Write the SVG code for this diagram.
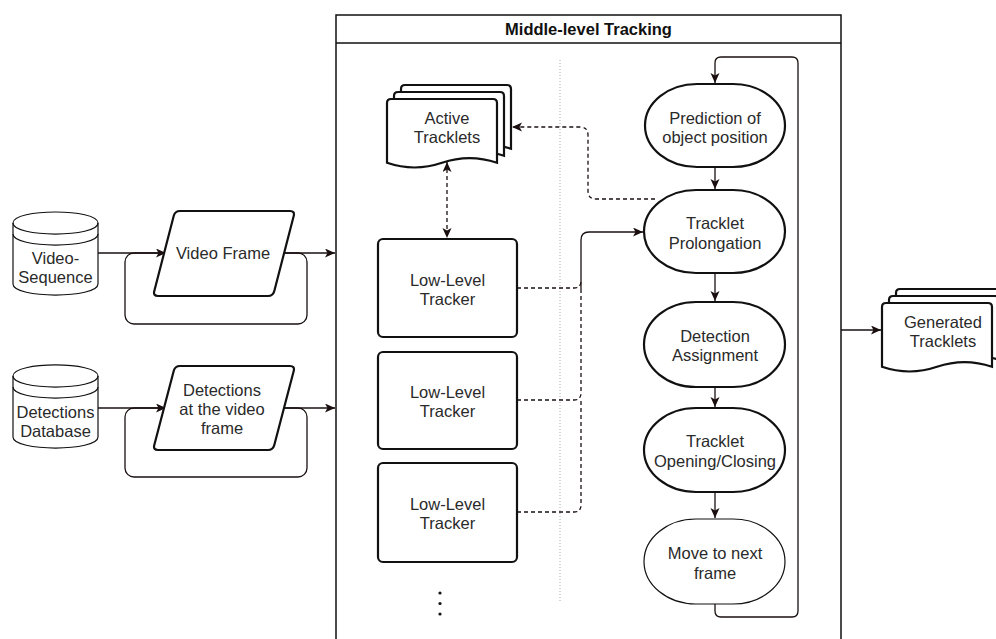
<svg xmlns="http://www.w3.org/2000/svg" width="996" height="639" viewBox="0 0 996 639">
<style>
text{font-family:"Liberation Sans",Arial,sans-serif;font-size:16.5px;fill:#2a2a2a;text-anchor:middle}
.title{font-weight:bold;fill:#111}
.thick{fill:#fff;stroke:#111;stroke-width:2.2}
.thin{fill:#fff;stroke:#111;stroke-width:1.2}
.line{fill:none;stroke:#1a1010;stroke-width:1.3}
.dash{fill:none;stroke:#1a1010;stroke-width:1.3;stroke-dasharray:4 3}
</style>
<defs>
<marker id="arr" markerWidth="12" markerHeight="10" refX="10" refY="4.5" orient="auto-start-reverse" markerUnits="userSpaceOnUse">
<path d="M0,0 L10,4.5 L0,9 L2.5,4.5 Z" fill="#1a0e0e" stroke="none"/>
</marker>
</defs>

<!-- container -->
<g id="container">
<path d="M336,645 V15 H841 V645" fill="none" stroke="#111" stroke-width="1.5"/>
<line x1="336" y1="43" x2="841" y2="43" stroke="#111" stroke-width="1.5"/>
<text class="title" x="588.5" y="35">Middle-level Tracking</text>
<line x1="560" y1="60" x2="560" y2="603" stroke="#aaa" stroke-width="1" stroke-dasharray="1 2"/>
</g>

<g id="connectors">
<!-- left inputs -->
<line class="line" x1="98" y1="253" x2="166" y2="253" marker-end="url(#arr)"/>
<line class="line" x1="284" y1="253" x2="335" y2="253" marker-end="url(#arr)"/>
<rect class="line" x="125" y="253" width="182" height="71" rx="9"/>
<line class="line" x1="98" y1="408" x2="166" y2="408" marker-end="url(#arr)"/>
<line class="line" x1="284" y1="408" x2="335" y2="408" marker-end="url(#arr)"/>
<rect class="line" x="125" y="408" width="182" height="69" rx="9"/>
<!-- output -->
<line class="line" x1="841" y1="330" x2="881" y2="330" marker-end="url(#arr)"/>
<!-- flow chain -->
<line class="line" x1="715" y1="167" x2="715" y2="189" marker-end="url(#arr)"/>
<line class="line" x1="715" y1="273" x2="715" y2="301" marker-end="url(#arr)"/>
<line class="line" x1="715" y1="387" x2="715" y2="407" marker-end="url(#arr)"/>
<line class="line" x1="715" y1="492" x2="715" y2="518" marker-end="url(#arr)"/>
<path class="line" d="M715,604 V611 Q715,617 721,617 H792 Q798,617 798,611 V63 Q798,57 792,57 H721 Q715,57 715,63 V83" marker-end="url(#arr)"/>
<!-- prolongation to active tracklets -->
<path class="dash" d="M655,199 H596 Q588,199 588,191 V135 Q588,127 580,127 H512" marker-end="url(#arr)"/>
<!-- active tracklets <-> tracker -->
<line class="dash" x1="447" y1="162" x2="447" y2="238" marker-start="url(#arr)" marker-end="url(#arr)"/>
<!-- trackers to prolongation -->
<path class="line" d="M581,290 V240 Q581,232 589,232 H643" marker-end="url(#arr)"/>
<path class="dash" d="M517,288 H574 Q581,288 581,281"/>
<path class="dash" d="M517,400 H574 Q581,400 581,393 V290"/>
<path class="dash" d="M517,512 H574 Q581,512 581,505 V400"/>
</g>

<g id="video-sequence">
<path class="thin" d="M13,223 C13,208.3 98,208.3 98,223 V284 C98,298.7 13,298.7 13,284 Z"/>
<path class="thin" fill="none" d="M13,223 C13,237.7 98,237.7 98,223 M13,234 C13,248.7 98,248.7 98,234" style="fill:none"/>
<text x="55.5" y="264">Video-</text>
<text x="55.5" y="283">Sequence</text>
</g>

<g id="detections-database">
<path class="thin" d="M13,376 C13,361.3 98,361.3 98,376 V437 C98,451.7 13,451.7 13,437 Z"/>
<path class="thin" d="M13,376 C13,390.7 98,390.7 98,376 M13,387 C13,401.7 98,401.7 98,387" style="fill:none"/>
<text x="55.5" y="418">Detections</text>
<text x="55.5" y="437">Database</text>
</g>

<g id="video-frame">
<path class="thick" d="M180,211 H290 Q295,211 293.7,216 L274.3,291 Q273,296 268,296 H158 Q153,296 154.3,291 L173.7,216 Q175,211 180,211 Z"/>
<text x="223" y="259">Video Frame</text>
</g>

<g id="detections-frame">
<path class="thick" d="M180,366 H290 Q295,366 293.7,371 L274.3,445 Q273,450 268,450 H158 Q153,450 154.3,445 L173.7,371 Q175,366 180,366 Z"/>
<text x="222" y="396">Detections</text>
<text x="222" y="415">at the video</text>
<text x="222" y="434">frame</text>
</g>

<g id="active-tracklets">
<path class="thick" d="M405,85 H507 Q511,85 511,89 V148.8 Q483.5,139.4 456,148.8 Q428.5,158.2 401,148.8 V89 Q401,85 405,85 Z"/>
<path class="thick" d="M398,92 H500 Q504,92 504,96 V155.8 Q476.5,146.4 449,155.8 Q421.5,165.2 394,155.8 V96 Q394,92 398,92 Z"/>
<path class="thick" d="M391,99 H493 Q497,99 497,103 V162.8 Q469.5,153.4 442,162.8 Q414.5,172.2 387,162.8 V103 Q387,99 391,99 Z"/>
<text x="447" y="124">Active</text>
<text x="447" y="143">Tracklets</text>
</g>

<g id="tracker-1">
<rect class="thick" x="378" y="239" width="139" height="98" rx="5"/>
<text x="447.5" y="286">Low-Level</text>
<text x="447.5" y="305">Tracker</text>
</g>
<g id="tracker-2">
<rect class="thick" x="378" y="352" width="139" height="97" rx="5"/>
<text x="447.5" y="398">Low-Level</text>
<text x="447.5" y="417">Tracker</text>
</g>
<g id="tracker-3">
<rect class="thick" x="378" y="463" width="139" height="99" rx="5"/>
<text x="447.5" y="510">Low-Level</text>
<text x="447.5" y="529">Tracker</text>
</g>
<g id="more-trackers" fill="#111">
<circle cx="440" cy="593" r="1.6"/>
<circle cx="440" cy="603.5" r="1.6"/>
<circle cx="440" cy="614" r="1.6"/>
</g>

<g id="prediction">
<rect class="thick" x="645" y="84" width="140" height="83" rx="52" ry="41.5"/>
<text x="715" y="124">Prediction of</text>
<text x="715" y="143">object position</text>
</g>
<g id="prolongation">
<rect class="thick" x="644" y="190" width="141" height="83" rx="52" ry="41.5"/>
<text x="715" y="229">Tracklet</text>
<text x="715" y="249">Prolongation</text>
</g>
<g id="assignment">
<rect class="thick" x="644" y="302" width="141" height="85" rx="52" ry="42.5"/>
<text x="715" y="342">Detection</text>
<text x="715" y="361">Assignment</text>
</g>
<g id="opening-closing">
<rect class="thick" x="644" y="408" width="141" height="84" rx="52" ry="42"/>
<text x="715" y="447">Tracklet</text>
<text x="715" y="467">Opening/Closing</text>
</g>
<g id="move-next">
<rect class="thin" x="644" y="519" width="141" height="85" rx="52" ry="42.5"/>
<text x="715" y="559">Move to next</text>
<text x="715" y="579">frame</text>
</g>

<g id="generated-tracklets">
<path class="thick" d="M900,289 H1002 Q1006,289 1006,293 V352.8 Q978.5,343.4 951,352.8 Q923.5,362.2 896,352.8 V293 Q896,289 900,289 Z"/>
<path class="thick" d="M893,296 H995 Q999,296 999,300 V359.8 Q971.5,350.4 944,359.8 Q916.5,369.2 889,359.8 V300 Q889,296 893,296 Z"/>
<path class="thick" d="M886,303 H988 Q992,303 992,307 V366.8 Q964.5,357.4 937,366.8 Q909.5,376.2 882,366.8 V307 Q882,303 886,303 Z"/>
<text x="943" y="328">Generated</text>
<text x="943" y="347">Tracklets</text>
</g>
</svg>
